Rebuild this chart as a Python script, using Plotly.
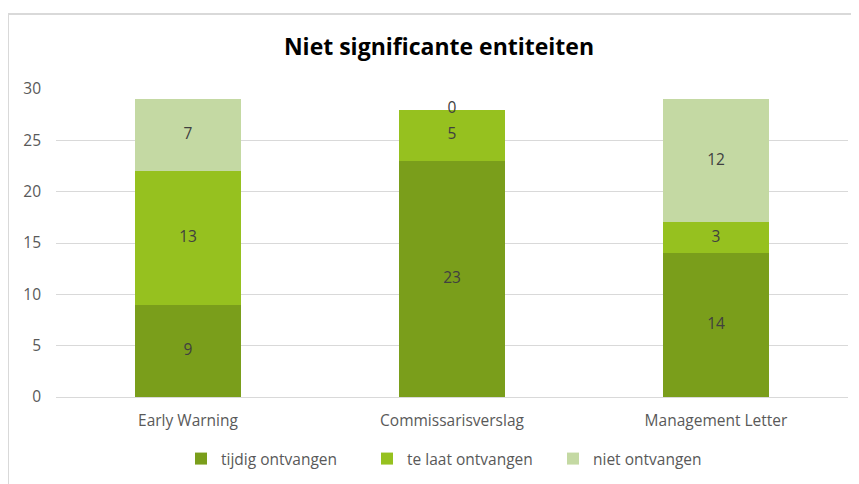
import plotly.graph_objects as go

categories = ["Early Warning", "Commissarisverslag", "Management Letter"]
series_names = ["tijdig ontvangen", "te laat ontvangen", "niet ontvangen"]
tijdig = [9, 23, 14]
te_laat = [13, 5, 3]
niet = [7, 0, 12]
colors = ["#7a9e1b", "#96c11f", "#c4d9a3"]
y_ticks = [0, 5, 10, 15, 20, 25, 30]

W, H = 859, 484
OFF = 8  # page body margin offset
# desired plot area in screen pixels: x 56..848, y 89..397
L = 56 - OFF
T = 89 - OFF
R = W - (848 - OFF)
B = H - (397 - OFF)

fig = go.Figure()
series = [tijdig, te_laat, niet]
base = [0, 0, 0]
label_x, label_y, label_t = [], [], []
for name, vals, col in zip(series_names, series, colors):
    fig.add_trace(go.Bar(
        name=name, x=categories, y=vals, marker_color=col,
        marker_line_width=0, hoverinfo="skip",
    ))
    for i, v in enumerate(vals):
        label_x.append(categories[i])
        label_y.append(base[i] + v / 2)
        label_t.append(str(v))
        base[i] += v

fig.add_trace(go.Scatter(
    x=label_x, y=label_y, text=label_t, mode="text",
    textfont=dict(family="Open Sans", size=15.5, color="#404040"),
    showlegend=False, hoverinfo="skip",
))

pw = W - L - R
ph = H - T - B
def px_x(sx):
    return (sx - OFF - L) / pw
def px_y(sy):
    return (H - B - (sy - OFF)) / ph

fig.add_shape(type="line", xref="paper", yref="paper",
              x0=px_x(8), x1=px_x(8), y0=px_y(14), y1=px_y(500),
              line=dict(color="#d9d9d9", width=2))
fig.add_shape(type="line", xref="paper", yref="paper",
              x0=px_x(7), x1=px_x(880), y0=px_y(14), y1=px_y(14),
              line=dict(color="#d9d9d9", width=2))

fig.update_layout(
    width=W, height=H,
    margin=dict(l=L, r=R, t=T, b=B, autoexpand=False),
    barmode="stack", bargap=0.6,
    paper_bgcolor="white", plot_bgcolor="white",
    title=dict(text="<b>Niet significante entiteiten</b>", x=(439 - OFF) / W, xanchor="center",
               y=1 - (47 - OFF) / H, yanchor="middle",
               font=dict(family="Open Sans", size=23, color="#000000")),
    font=dict(family="Open Sans", size=15.5, color="#595959"),
    legend=dict(orientation="h", traceorder="normal",
                x=px_x(181), xanchor="left",
                y=px_y(459), yanchor="middle",
                entrywidth=141, entrywidthmode="pixels",
                font=dict(family="Open Sans", size=15.5, color="#595959"),
                itemclick=False, itemdoubleclick=False),
    xaxis=dict(showline=False, ticks="", tickfont=dict(size=15.5, color="#595959"),
               showgrid=False, ticklabelstandoff=12),
    yaxis=dict(range=[0, 30], tickvals=y_ticks, showgrid=True, gridcolor="#d9d9d9",
               gridwidth=1, zeroline=True, zerolinecolor="#d9d9d9", zerolinewidth=1,
               ticks="", ticklen=0, tickfont=dict(size=15.5, color="#595959"),
               ticklabelstandoff=14),
    showlegend=True,
)

fig.write_html("out.html")
